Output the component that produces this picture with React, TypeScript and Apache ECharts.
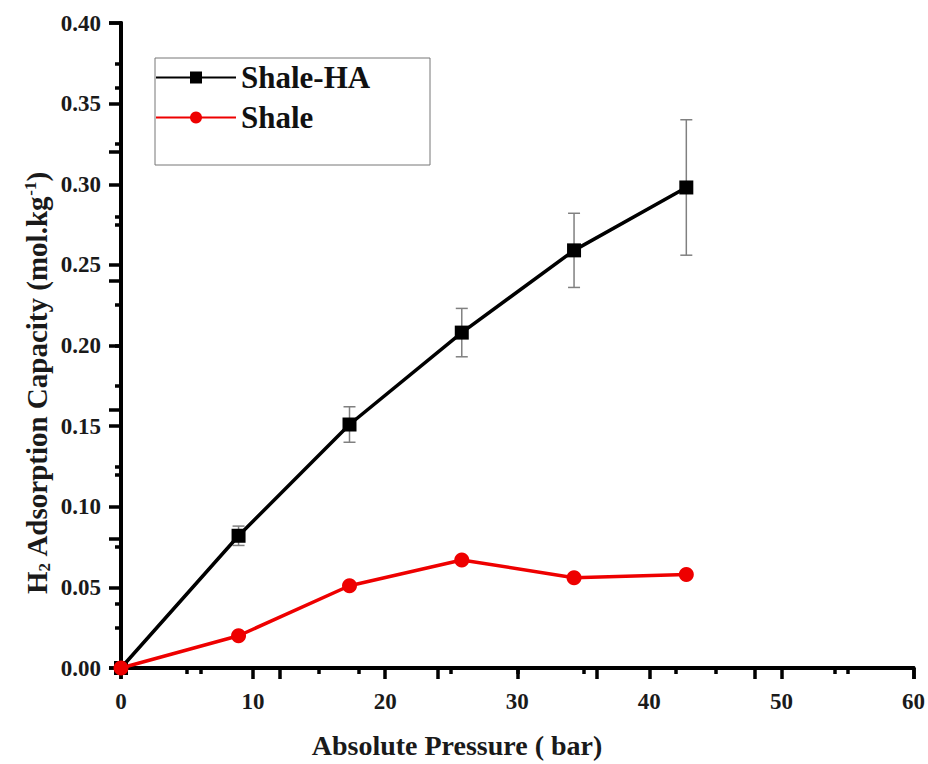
import React, { useEffect, useRef } from "react";
import * as echarts from "echarts";

const pressure = [0, 8.9, 17.3, 25.8, 34.3, 42.8];
const shaleHA = [0, 0.082, 0.151, 0.208, 0.259, 0.298];
const shaleHAErr = [0, 0.006, 0.011, 0.015, 0.023, 0.042];
const shale = [0, 0.02, 0.051, 0.067, 0.056, 0.058];
const seriesNames = ["Shale-HA", "Shale"];
const xTitle = "Absolute Pressure ( bar)";
const yTitle = "{b|H}{sub|2}{b| Adsorption Capacity (mol.kg}{sup|-1}{b|)}";

const FONT = "'Liberation Serif', 'Times New Roman', serif";

export default function App() {
  const ref = useRef<HTMLDivElement>(null);
  useEffect(() => {
    if (!ref.current) return;
    const chart = echarts.init(ref.current, undefined, { renderer: "svg" });
    const haData = pressure.map((p, i) => [p, shaleHA[i]]);
    const shData = pressure.map((p, i) => [p, shale[i]]);
    const errData = pressure
      .map((p, i) => [p, shaleHA[i], shaleHAErr[i]])
      .filter((d) => d[2] > 0);
    const axisLine = { show: true, lineStyle: { color: "#000", width: 4 } };
    const tickStyle = { width: 3.5, color: "#000" };
    const tickLabel = {
      fontFamily: FONT,
      fontWeight: "bold" as const,
      fontSize: 23,
      color: "#1a1a1a",
    };
    chart.setOption({
      animation: false,
      backgroundColor: "#fff",
      grid: { left: 121, top: 23, right: 14, bottom: 96, containLabel: false },
      legend: {
        data: seriesNames,
        orient: "vertical",
        left: 150,
        top: 57,
        itemWidth: 80,
        itemHeight: 15,
        itemGap: 9,
        textStyle: {
          fontFamily: FONT,
          fontWeight: "bold",
          fontSize: 31,
          color: "#111",
        },
      },
      graphic: [
        {
          type: "rect",
          shape: { x: 155, y: 58, width: 275, height: 107 },
          style: { fill: "none", stroke: "#777", lineWidth: 1 },
          z: 1,
        },
        {
          type: "text",
          x: 457,
          y: 745,
          style: {
            text: xTitle,
            align: "center",
            verticalAlign: "middle",
            fontFamily: FONT,
            fontWeight: "bold",
            fontSize: 28,
            fill: "#1a1a1a",
          },
        },
        {
          type: "text",
          x: 37,
          y: 383,
          rotation: Math.PI / 2,
          style: {
            text: yTitle,
            align: "center",
            verticalAlign: "middle",
            fontFamily: FONT,
            fontWeight: "bold",
            fontSize: 29,
            fill: "#1a1a1a",
            rich: {
              b: { fontFamily: FONT, fontWeight: "bold", fontSize: 29, fill: "#1a1a1a" },
              sub: {
                fontFamily: FONT,
                fontWeight: "bold",
                fontSize: 17,
                fill: "#1a1a1a",
                verticalAlign: "bottom",
                padding: [14, 0, 0, 0],
              },
              sup: {
                fontFamily: FONT,
                fontWeight: "bold",
                fontSize: 17,
                fill: "#1a1a1a",
                verticalAlign: "top",
                padding: [0, 0, 12, 0],
              },
            },
          },
        },
      ],
      xAxis: [
        {
          type: "value",
          min: 0,
          max: 60,
          interval: 10,
          position: "bottom",
          axisLine,
          axisTick: { show: true, inside: false, length: 11, lineStyle: tickStyle },
          minorTick: { show: true, splitNumber: 2, length: 6, lineStyle: tickStyle },
          axisLabel: { ...tickLabel, margin: 22 },
          splitLine: { show: false },
        },
        {
          type: "value",
          min: 0,
          max: 1,
          interval: 0.2,
          position: "top",
          axisLine,
          axisTick: { show: true, inside: true, length: 11, lineStyle: tickStyle },
          minorTick: { show: true, splitNumber: 2, length: 6, lineStyle: tickStyle },
          axisLabel: { show: false },
          splitLine: { show: false },
        },
      ],
      yAxis: [
        {
          type: "value",
          min: 0,
          max: 0.4,
          interval: 0.05,
          position: "left",
          axisLine,
          axisTick: { show: true, inside: false, length: 12, lineStyle: tickStyle },
          minorTick: { show: true, splitNumber: 2, length: 6, lineStyle: tickStyle },
          axisLabel: {
            ...tickLabel,
            margin: 20,
            formatter: (v: number) => v.toFixed(2),
          },
          splitLine: { show: false },
        },
        {
          type: "value",
          min: 0,
          max: 1,
          interval: 0.2,
          position: "right",
          axisLine,
          axisTick: { show: true, inside: true, length: 12, lineStyle: tickStyle },
          minorTick: { show: true, splitNumber: 2, length: 6, lineStyle: tickStyle },
          axisLabel: { show: false },
          splitLine: { show: false },
        },
      ],
      series: [
        {
          type: "custom",
          name: "err",
          xAxisIndex: 0,
          yAxisIndex: 0,
          z: 1,
          data: errData,
          renderItem: (params: any, api: any) => {
            const x = api.value(0);
            const y = api.value(1);
            const e = api.value(2);
            const top = api.coord([x, y + e]);
            const bot = api.coord([x, y - e]);
            const cap = 6;
            const style = { stroke: "#808080", lineWidth: 1.5 };
            return {
              type: "group",
              children: [
                { type: "line", shape: { x1: top[0], y1: top[1], x2: bot[0], y2: bot[1] }, style },
                { type: "line", shape: { x1: top[0] - cap, y1: top[1], x2: top[0] + cap, y2: top[1] }, style },
                { type: "line", shape: { x1: bot[0] - cap, y1: bot[1], x2: bot[0] + cap, y2: bot[1] }, style },
              ],
            };
          },
        },
        {
          type: "line",
          name: seriesNames[0],
          xAxisIndex: 0,
          yAxisIndex: 0,
          z: 3,
          data: haData,
          symbol: "rect",
          symbolSize: 14,
          showAllSymbol: true,
          lineStyle: { color: "#000", width: 3.5 },
          itemStyle: { color: "#000" },
        },
        {
          type: "line",
          name: seriesNames[1],
          xAxisIndex: 0,
          yAxisIndex: 0,
          z: 3,
          data: shData,
          symbol: "circle",
          symbolSize: 15,
          showAllSymbol: true,
          lineStyle: { color: "#ee0000", width: 3.5 },
          itemStyle: { color: "#ee0000" },
        },
      ],
    });
    return () => chart.dispose();
  }, []);
  return (
    <div
      ref={ref}
      style={{ position: "absolute", left: 0, top: 0, width: 928, height: 764 }}
    />
  );
}
